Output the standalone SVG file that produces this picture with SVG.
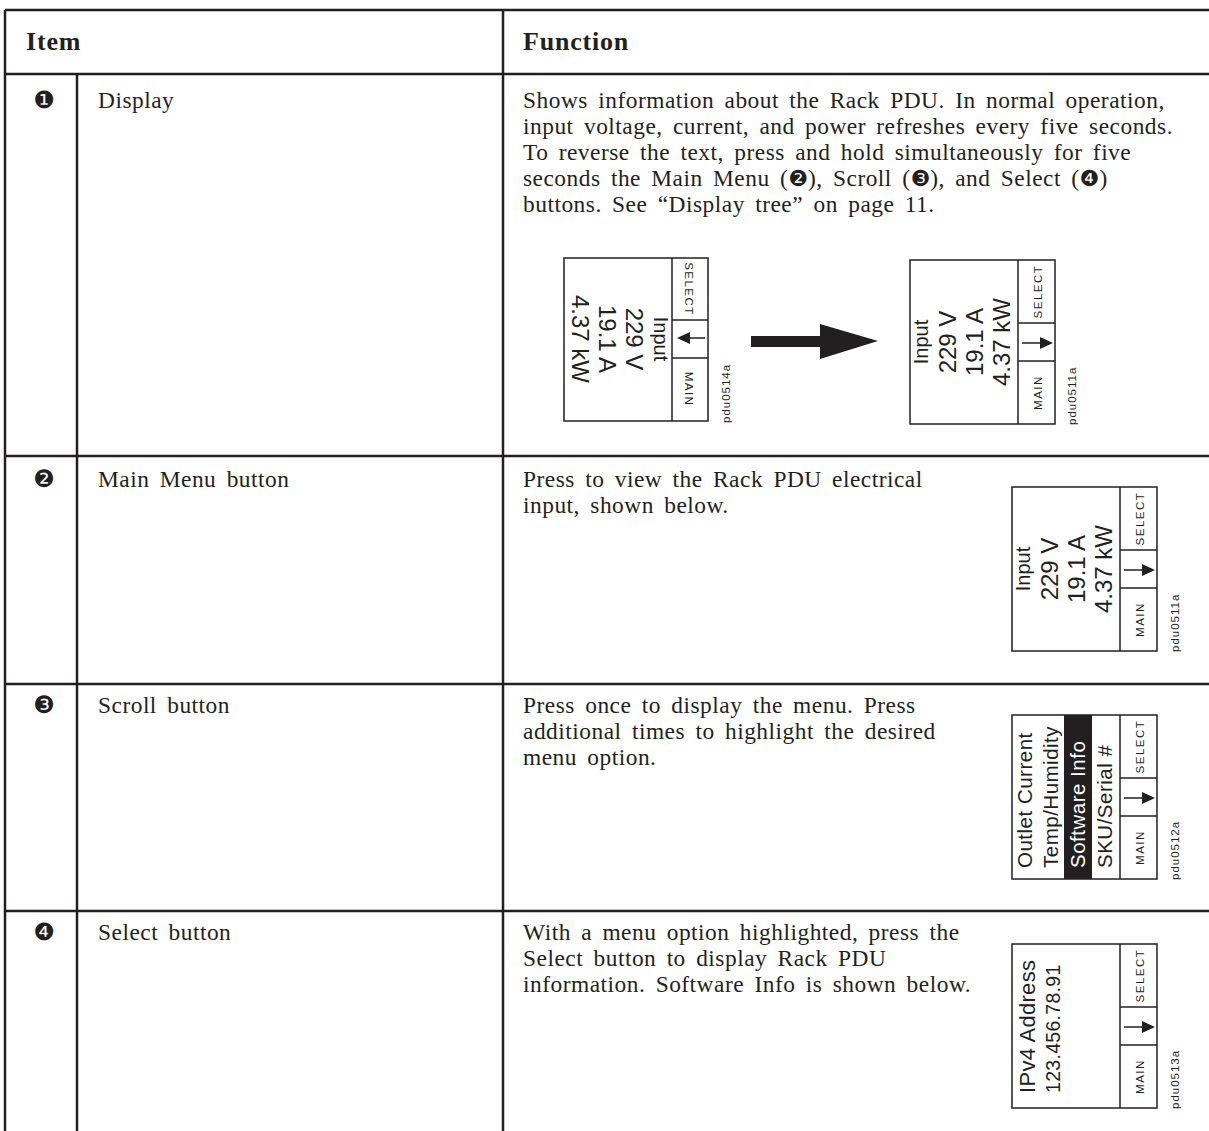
<svg xmlns="http://www.w3.org/2000/svg" width="1209" height="1131" viewBox="0 0 1209 1131">
<style>
.grid{stroke:#231f20;stroke-width:2.5;fill:none}
.body{font-family:"Liberation Serif","Times New Roman",serif;font-size:23.4px;letter-spacing:0.5px;word-spacing:4px;fill:#231f20}
.hdr{font-family:"Liberation Serif","Times New Roman",serif;font-size:26px;letter-spacing:0.8px;font-weight:bold;fill:#231f20}
.num{font-family:"DejaVu Sans",sans-serif;font-size:24px;fill:#231f20}
.ding{font-family:"DejaVu Sans",sans-serif;font-size:22px;letter-spacing:0}
.box{stroke:#231f20;stroke-width:1.5;fill:#fff}
.ln{stroke:#231f20;stroke-width:1.5}
.big{font-family:"Liberation Sans",Arial,sans-serif;font-size:24px;fill:#231f20}
.inp{font-family:"Liberation Sans",Arial,sans-serif;font-size:20px;fill:#231f20}
.btn{font-family:"Liberation Sans",Arial,sans-serif;font-size:11.5px;letter-spacing:1.5px;fill:#231f20}
.code{font-family:"Liberation Sans",Arial,sans-serif;font-size:11.5px;letter-spacing:1px;fill:#231f20}
.menu{font-family:"Liberation Sans",Arial,sans-serif;font-size:20.5px;letter-spacing:0.5px;fill:#231f20}
</style>
<defs>
<g id="frame">
<rect class="box" x="0" y="0" width="145" height="164"/>
<line class="ln" x1="108" y1="0" x2="108" y2="164"/>
<line class="ln" x1="108" y1="63" x2="145" y2="63"/>
<line class="ln" x1="108" y1="101" x2="145" y2="101"/>
</g>
<g id="btnR">
<text class="btn" text-anchor="middle" transform="translate(132,31.5) rotate(-90)">SELECT</text>
<text class="btn" text-anchor="middle" transform="translate(132,132.5) rotate(-90)">MAIN</text>
<line class="ln" x1="112" y1="83" x2="132" y2="83" stroke-width="2"/>
<polygon points="130,77 143,83 130,89" fill="#231f20"/>
</g>
<g id="inputText">
<text class="inp" text-anchor="middle" transform="translate(18,82) rotate(-90)">Input</text>
<text class="big" text-anchor="middle" transform="translate(46,82) rotate(-90)">229 V</text>
<text class="big" text-anchor="middle" transform="translate(73,82) rotate(-90)">19.1 A</text>
<text class="big" text-anchor="middle" transform="translate(100,82) rotate(-90)">4.37 kW</text>
</g>
</defs>

<g id="table" class="grid">
<line x1="5" y1="10" x2="1209" y2="10"/>
<line x1="5" y1="74" x2="1209" y2="74"/>
<line x1="5" y1="456" x2="1209" y2="456"/>
<line x1="5" y1="684" x2="1209" y2="684"/>
<line x1="5" y1="911" x2="1209" y2="911"/>
<line x1="5" y1="10" x2="5" y2="1131"/>
<line x1="77" y1="74" x2="77" y2="1131"/>
<line x1="503" y1="10" x2="503" y2="1131"/>
</g>

<g id="header">
<text class="hdr" x="26" y="50">Item</text>
<text class="hdr" x="523" y="50">Function</text>
</g>

<g id="row1">
<text class="num" x="44" y="108" text-anchor="middle">❶</text>
<text class="body" x="98" y="108">Display</text>
<text class="body" x="523" y="108">Shows information about the Rack PDU. In normal operation,</text>
<text class="body" x="523" y="134">input voltage, current, and power refreshes every five seconds.</text>
<text class="body" x="523" y="160">To reverse the text, press and hold simultaneously for five</text>
<text class="body" x="523" y="186">seconds the Main Menu (<tspan class="ding">❷</tspan>), Scroll (<tspan class="ding">❸</tspan>), and Select (<tspan class="ding">❹</tspan>)</text>
<text class="body" x="523" y="212">buttons. See “Display tree” on page 11.</text>
<g id="display-reversed" transform="translate(564,258)">
<rect class="box" x="0" y="0" width="144" height="163"/>
<line class="ln" x1="108" y1="0" x2="108" y2="163"/>
<line class="ln" x1="108" y1="62" x2="144" y2="62"/>
<line class="ln" x1="108" y1="100" x2="144" y2="100"/>
<text class="btn" text-anchor="middle" transform="translate(121,31) rotate(90)">SELECT</text>
<text class="btn" text-anchor="middle" transform="translate(121,131) rotate(90)">MAIN</text>
<line class="ln" x1="122" y1="80" x2="141" y2="80" stroke-width="2"/>
<polygon points="126,74 113,80 126,86" fill="#231f20"/>
<g transform="rotate(180,54,81.5)"><use href="#inputText"/></g>
<text class="code" transform="translate(166,165) rotate(-90)">pdu0514a</text>
</g>
<polygon id="big-arrow" points="751,336 820,336 820,324 878,341 820,359 820,347 751,347" fill="#231f20"/>
<g id="display-normal" transform="translate(910,260)">
<use href="#frame"/>
<use href="#btnR"/>
<use href="#inputText"/>
<text class="code" transform="translate(166,165) rotate(-90)">pdu0511a</text>
</g>
</g>

<g id="row2">
<text class="num" x="44" y="487" text-anchor="middle">❷</text>
<text class="body" x="98" y="487">Main Menu button</text>
<text class="body" x="523" y="487">Press to view the Rack PDU electrical</text>
<text class="body" x="523" y="513">input, shown below.</text>
<g id="display-main" transform="translate(1012,487)">
<use href="#frame"/>
<use href="#btnR"/>
<use href="#inputText"/>
<text class="code" transform="translate(167,165) rotate(-90)">pdu0511a</text>
</g>
</g>

<g id="row3">
<text class="num" x="44" y="713" text-anchor="middle">❸</text>
<text class="body" x="98" y="713">Scroll button</text>
<text class="body" x="523" y="713">Press once to display the menu. Press</text>
<text class="body" x="523" y="739">additional times to highlight the desired</text>
<text class="body" x="523" y="765">menu option.</text>
<g id="display-menu" transform="translate(1012,715)">
<use href="#frame"/>
<rect x="52" y="0" width="28" height="164" fill="#231f20"/>
<text class="menu" transform="translate(20,153) rotate(-90)">Outlet Current</text>
<text class="menu" transform="translate(46,153) rotate(-90)">Temp/Humidity</text>
<text class="menu" transform="translate(73,153) rotate(-90)" style="fill:#fff">Software Info</text>
<text class="menu" transform="translate(100,153) rotate(-90)">SKU/Serial #</text>
<use href="#btnR"/>
<text class="code" transform="translate(167,165) rotate(-90)">pdu0512a</text>
</g>
</g>

<g id="row4">
<text class="num" x="44" y="940" text-anchor="middle">❹</text>
<text class="body" x="98" y="940">Select button</text>
<text class="body" x="523" y="940">With a menu option highlighted, press the</text>
<text class="body" x="523" y="966">Select button to display Rack PDU</text>
<text class="body" x="523" y="992">information. Software Info is shown below.</text>
<g id="display-select" transform="translate(1012,944)">
<use href="#frame"/>
<text class="menu" style="font-size:22px;letter-spacing:0.3px" transform="translate(23,149) rotate(-90)">IPv4 Address</text>
<text class="menu" style="font-size:19.5px;letter-spacing:0.3px" transform="translate(48,149) rotate(-90)">123.456.78.91</text>
<use href="#btnR"/>
<text class="code" transform="translate(167,165) rotate(-90)">pdu0513a</text>
</g>
</g>
</svg>
